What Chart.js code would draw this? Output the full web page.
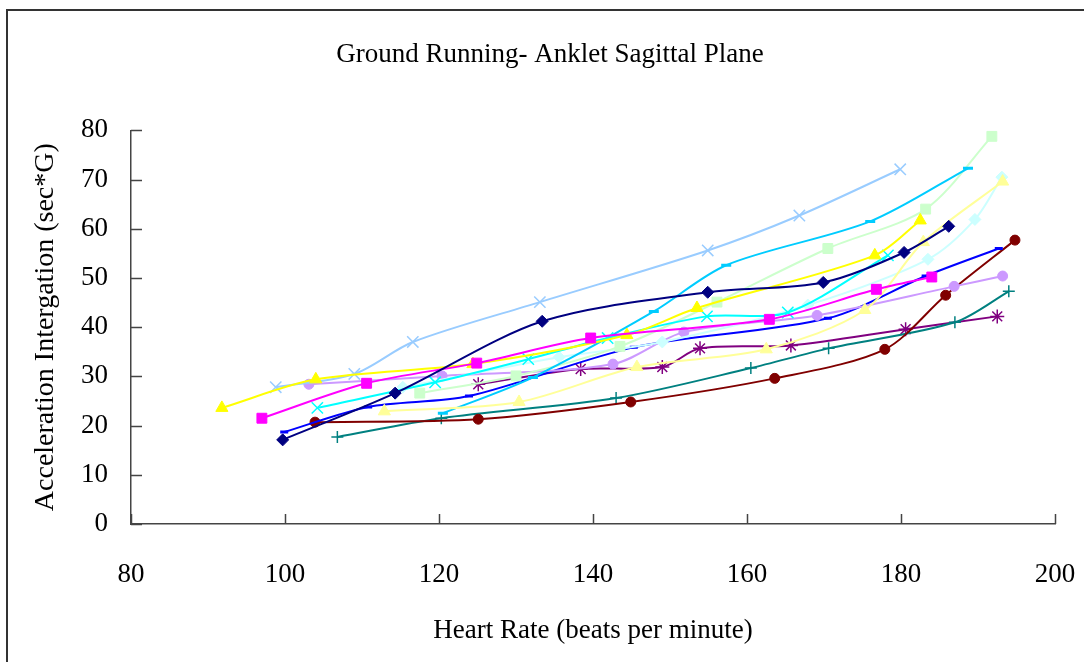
<!DOCTYPE html>
<html>
<head>
<meta charset="utf-8">
<script src="https://cdn.jsdelivr.net/npm/chart.js@4"></script>
<style>
  html, body { margin: 0; padding: 0; background: #fff; }
</style>
</head>
<body>
<canvas id="myChart" width="1084" height="662"></canvas>
<script>
const hrNavy = [99.7, 114.3, 133.4, 154.9, 169.9, 180.4, 186.2];
const accNavy = [17.1, 26.6, 41.2, 47.1, 49.1, 55.2, 60.5];
const hrMagenta = [97.0, 110.6, 124.9, 139.7, 162.9, 176.8, 184.0];
const accMagenta = [21.5, 28.6, 32.7, 37.8, 41.6, 47.7, 50.2];
const hrYellow = [91.8, 104.0, 124.4, 144.4, 153.5, 176.6, 182.5];
const accYellow = [23.6, 29.4, 32.5, 38.4, 43.9, 54.6, 61.7];
const hrPaleYellow = [112.9, 130.4, 145.7, 162.5, 175.3, 182.9, 193.2];
const accPaleYellow = [22.9, 24.8, 31.9, 35.5, 43.5, 57.3, 69.6];
const hrLightBlue = [98.8, 109.0, 116.6, 133.1, 154.9, 166.8, 179.9];
const accLightBlue = [27.8, 30.5, 37.0, 45.1, 55.6, 62.7, 72.1];
const hrCyan = [104.2, 119.5, 131.6, 141.9, 154.8, 165.3, 178.3];
const accCyan = [23.6, 28.8, 33.5, 37.8, 42.2, 43.0, 54.6];
const hrSky = [120.5, 132.2, 147.9, 157.3, 176.0, 188.7];
const accSky = [22.5, 29.8, 43.2, 52.6, 61.5, 72.3];
const hrLightGreen = [117.5, 130.0, 143.5, 156.1, 170.5, 183.2, 191.8];
const accLightGreen = [26.6, 30.1, 36.1, 45.1, 56.0, 64.0, 78.8];
const hrPaleCyan = [115.3, 135.6, 149.0, 167.9, 183.5, 189.6, 193.1];
const accPaleCyan = [27.8, 33.9, 37.0, 44.5, 53.8, 61.9, 70.5];
const hrLavender = [103.1, 120.4, 142.6, 151.8, 169.1, 186.9, 193.2];
const accLavender = [28.4, 30.1, 32.5, 39.0, 42.4, 48.3, 50.4];
const hrBlue = [99.9, 110.8, 123.9, 145.3, 170.5, 183.2, 192.7];
const accBlue = [18.7, 23.8, 26.0, 35.9, 41.8, 50.4, 56.0];
const hrMaroon = [103.9, 125.1, 144.9, 163.6, 177.9, 185.8, 194.8];
const accMaroon = [20.7, 21.3, 24.8, 29.6, 35.5, 46.5, 57.7];
const hrTeal = [106.8, 120.3, 143.0, 160.5, 170.6, 187.0, 194.0];
const accTeal = [17.7, 21.5, 25.6, 31.7, 35.7, 41.0, 47.3];
const hrPurple = [125.1, 138.4, 149.0, 153.9, 165.7, 180.6, 192.5];
const accPurple = [28.4, 31.5, 31.9, 35.7, 36.3, 39.6, 42.2];

const xTicks = [80, 100, 120, 140, 160, 180, 200];
const yTicks = [0, 10, 20, 30, 40, 50, 60, 70, 80];

function pts(xs, ys) {
    return xs.map((x, i) => ({ x: x, y: ys[i] }));
}

function series(xs, ys, color, style, radius, bw) {
    return {
        data: pts(xs, ys),
        borderColor: color,
        backgroundColor: color,
        borderWidth: 2,
        pointStyle: style,
        pointRadius: radius,
        pointHoverRadius: radius,
        pointBorderWidth: bw || 1,
        tension: 0.3
    };
}

const datasets = [
    series(hrNavy, accNavy, '#000080', 'rectRot', 6),
    series(hrMagenta, accMagenta, '#FF00FF', 'rect', 7),
    series(hrYellow, accYellow, '#FFFF00', 'triangle', 7),
    series(hrPaleYellow, accPaleYellow, '#FFFF99', 'triangle', 7),
    series(hrLightBlue, accLightBlue, '#99CCFF', 'crossRot', 8, 1.5),
    series(hrCyan, accCyan, '#00FFFF', 'crossRot', 8, 1.5),
    series(hrSky, accSky, '#00CCFF', 'line', 5, 3),
    series(hrLightGreen, accLightGreen, '#CCFFCC', 'rect', 7),
    series(hrPaleCyan, accPaleCyan, '#CCFFFF', 'rectRot', 6),
    series(hrLavender, accLavender, '#CC99FF', 'circle', 5),
    series(hrBlue, accBlue, '#0000FF', 'line', 4, 3),
    series(hrMaroon, accMaroon, '#800000', 'circle', 5),
    series(hrTeal, accTeal, '#008080', 'cross', 6, 1.5),
    series(hrPurple, accPurple, '#800080', 'star', 7, 1.5)
];

// outer frame + inward tick marks
const framePlugin = {
    id: 'frame',
    beforeDraw(chart) {
        const c = chart.ctx;
        c.save();
        c.strokeStyle = '#333';
        c.lineWidth = 2;
        c.beginPath();
        c.moveTo(7, 662);
        c.lineTo(7, 10);
        c.lineTo(1084, 10);
        c.stroke();
        c.restore();
    },
    afterDraw(chart) {
        const c = chart.ctx;
        const xs = chart.scales.x, ys = chart.scales.y;
        const a = chart.chartArea;
        c.save();
        c.strokeStyle = '#444';
        c.lineWidth = 1.5;
        c.beginPath();
        yTicks.forEach(v => {
            const py = Math.round(ys.getPixelForValue(v)) + 0.5;
            c.moveTo(a.left, py);
            c.lineTo(a.left + 11, py);
        });
        xTicks.forEach(v => {
            const px = Math.round(xs.getPixelForValue(v)) + 0.5;
            c.moveTo(px, a.bottom);
            c.lineTo(px, a.bottom - 10);
        });
        c.stroke();
        c.restore();
    }
};

const serif = 'Liberation Serif';

new Chart(document.getElementById('myChart').getContext('2d'), {
    type: 'line',
    data: { datasets: datasets },
    plugins: [framePlugin],
    options: {
        responsive: false,
        animation: false,
        layout: { padding: { left: 16, right: 0, top: 0, bottom: 0 } },
        plugins: {
            legend: { display: false },
            tooltip: { enabled: false },
            title: {
                display: true,
                text: 'Ground Running- Anklet Sagittal Plane',
                color: '#000',
                font: { family: serif, size: 27, weight: 'normal' },
                padding: { top: 39, bottom: 59 }
            }
        },
        scales: {
            x: {
                type: 'linear',
                min: 80,
                max: 200,
                afterBuildTicks: s => { s.ticks = xTicks.map(v => ({ value: v })); },
                afterFit: s => { s.height = 138; s.paddingRight = 29; },
                grid: { display: false, drawTicks: false },
                border: { display: true, color: '#444', width: 1.5 },
                ticks: { color: '#000', padding: 35, font: { family: serif, size: 27 } },
                title: {
                    display: true,
                    text: 'Heart Rate (beats per minute)',
                    color: '#000',
                    font: { family: serif, size: 27 },
                    padding: { top: 0, bottom: 15 }
                }
            },
            y: {
                min: 0,
                max: 80,
                afterBuildTicks: s => { s.ticks = yTicks.map(v => ({ value: v })); },
                afterFit: s => { s.width = 115; },
                grid: { display: false, drawTicks: false },
                border: { display: true, color: '#444', width: 1.5 },
                ticks: { color: '#000', padding: 23, font: { family: serif, size: 27 } },
                title: {
                    display: true,
                    text: 'Acceleration Intergation (sec*G)',
                    color: '#000',
                    font: { family: serif, size: 28 },
                    padding: { top: 13, bottom: 0 }
                }
            }
        }
    }
});
</script>
</body>
</html>
